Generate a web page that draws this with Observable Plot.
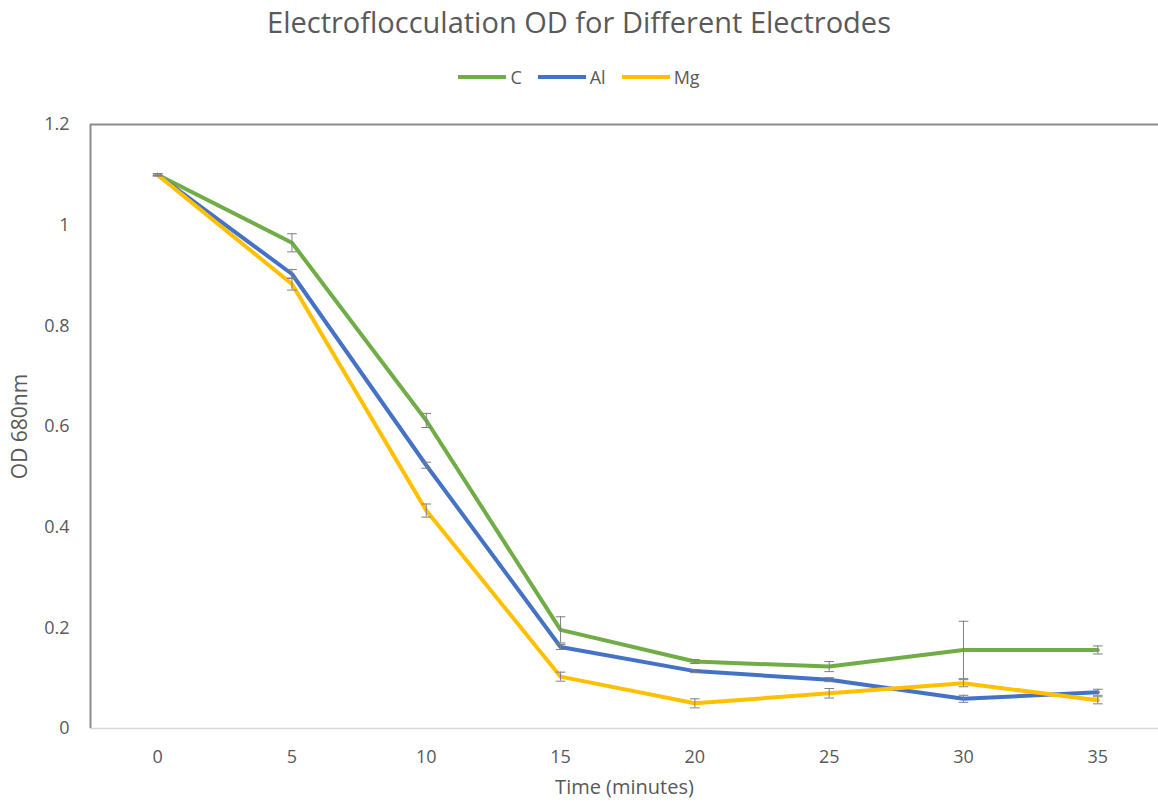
<!DOCTYPE html>
<html>
<head>
<meta charset="utf-8">
<script src="https://cdn.jsdelivr.net/npm/d3@7"></script>
<script src="https://cdn.jsdelivr.net/npm/@observablehq/plot@0.6"></script>
<style>
  body { margin: 0; background: #fff; font-family: "Open Sans", sans-serif; }
  #wrap { width: 1158px; position: relative; }
  #header { position: relative; height: 100px; }
  #title { position: absolute; left: 0; right: 0; top: 2px; text-align: center; font-size: 29px; line-height: 40px; color: #595959; }
  #legend { position: absolute; left: 0; right: 0; top: 65px; height: 24px; display: flex; justify-content: center; align-items: center; font-size: 18px; color: #595959; }
  .item { display: flex; align-items: center; margin: 0 8px; }
  .sw { width: 48px; height: 4px; margin-right: 4px; }
</style>
</head>
<body>
<div id="wrap">
  <div id="header">
    <div id="title">Electroflocculation OD for Different Electrodes</div>
    <div id="legend"></div>
  </div>
  <div id="chart"></div>
</div>
<script>
const times = [0, 5, 10, 15, 20, 25, 30, 35];
const seriesNames = ["C", "Al", "Mg"];
const seriesColors = ["#70AD47", "#4472C4", "#FFC000"];
const C = [1.10, 0.965, 0.612, 0.196, 0.133, 0.123, 0.156, 0.156];
const C_err = [0.002, 0.018, 0.014, 0.026, 0.004, 0.010, 0.057, 0.008];
const Al = [1.10, 0.903, 0.523, 0.162, 0.114, 0.097, 0.059, 0.072];
const Al_err = [0.002, 0.009, 0.006, 0.005, 0.003, 0.004, 0.007, 0.006];
const Mg = [1.10, 0.883, 0.433, 0.103, 0.050, 0.070, 0.090, 0.056];
const Mg_err = [0.002, 0.012, 0.013, 0.009, 0.009, 0.0095, 0.007, 0.007];
const yTicks = [0, 0.2, 0.4, 0.6, 0.8, 1, 1.2];

const values = [C, Al, Mg];
const errs = [C_err, Al_err, Mg_err];
const data = [];
seriesNames.forEach((s, i) => {
  times.forEach((t, j) => data.push({series: s, t, v: values[i][j], e: errs[i][j]}));
});

// legend
const leg = document.getElementById("legend");
seriesNames.forEach((s, i) => {
  const it = document.createElement("div");
  it.className = "item";
  it.innerHTML = `<div class="sw" style="background:${seriesColors[i]}"></div><span>${s}</span>`;
  leg.appendChild(it);
});

const capHalf = 0.18;
const marks = [
  Plot.ruleY([0], {stroke: "#d9d9d9", strokeWidth: 1.5}),
  Plot.ruleY([1.2], {stroke: "#8c8c8c", strokeWidth: 2}),
  Plot.ruleX([-2.5], {y1: 0, y2: 1.2, stroke: "#8c8c8c", strokeWidth: 2}),
  Plot.axisY({ticks: yTicks, tickSize: 0, tickPadding: 21, tickFormat: d => String(d), label: null, fontSize: 18, color: "#595959"}),
  Plot.axisY({ticks: [], label: "OD 680nm", labelAnchor: "center", labelArrow: "none", labelOffset: 78, fontSize: 21, color: "#595959"}),
  Plot.axisX({ticks: times, tickSize: 0, tickPadding: 22, label: null, fontSize: 18, color: "#595959"}),
  Plot.axisX({ticks: [], label: "Time (minutes)", labelAnchor: "center", labelArrow: "none", labelOffset: 65, fontSize: 20, color: "#595959"})
];
seriesNames.forEach((s, i) => {
  const d = data.filter(r => r.series === s);
  marks.push(Plot.line(d, {x: "t", y: "v", stroke: seriesColors[i], strokeWidth: 4, strokeLinejoin: "round"}));
});
seriesNames.forEach((s, i) => {
  const d = data.filter(r => r.series === s);
  marks.push(Plot.ruleX(d, {x: "t", y1: r => r.v - r.e, y2: r => r.v + r.e, stroke: "#808080", strokeWidth: 1}));
  marks.push(Plot.link(d, {x1: r => r.t - capHalf, x2: r => r.t + capHalf, y1: r => r.v + r.e, y2: r => r.v + r.e, stroke: "#808080", strokeWidth: 1}));
  marks.push(Plot.link(d, {x1: r => r.t - capHalf, x2: r => r.t + capHalf, y1: r => r.v - r.e, y2: r => r.v - r.e, stroke: "#808080", strokeWidth: 1}));
});

const plot = Plot.plot({
  width: 1158,
  height: 705,
  marginTop: 24,
  marginBottom: 77,
  marginLeft: 90,
  marginRight: 0,
  style: {fontFamily: "Open Sans, sans-serif", fontSize: "18px", color: "#595959", background: "#fff"},
  x: {domain: [-2.5, 37.26]},
  y: {domain: [0, 1.2]},
  marks
});
document.getElementById("chart").appendChild(plot);
</script>
</body>
</html>
